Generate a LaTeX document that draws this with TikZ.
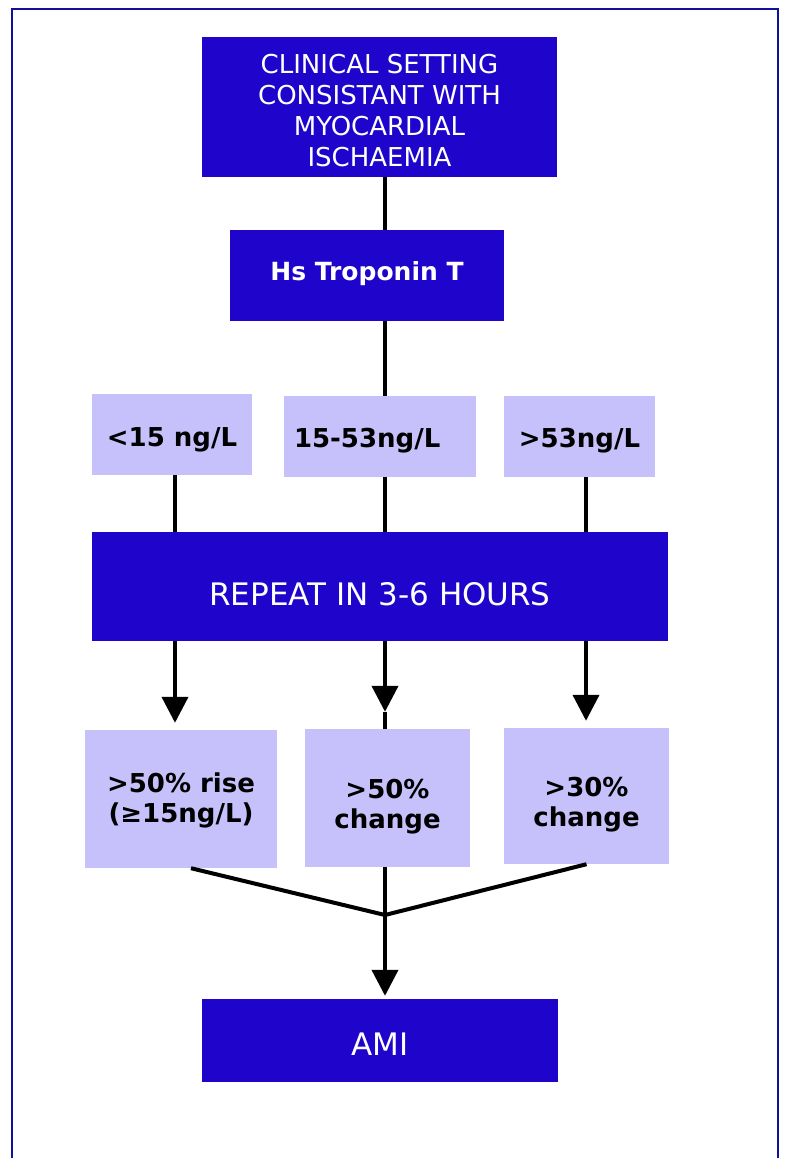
\documentclass[tikz,border=0pt]{standalone}
\usepackage{fontspec}
\setmainfont{DejaVu Sans}
\usetikzlibrary{arrows.meta}
\definecolor{dkblue}{HTML}{1F05CB}
\definecolor{lav}{HTML}{C7C1FB}
\definecolor{framec}{HTML}{10109C}
\newcommand{\lowtxt}[2]{\raisebox{-#1}[\height][\depth]{\begin{tabular}{@{}c@{}}#2\end{tabular}}}
\begin{document}
\begin{tikzpicture}[x=1pt,y=-1pt,
  dark/.style={fill=dkblue, text=white, inner sep=0pt, align=center},
  light/.style={fill=lav, text=black, inner sep=0pt, align=center, font=\bfseries\fontsize{26}{30}\selectfont},
  conn/.style={line width=4pt, black},
  arr/.style={conn, -{Triangle[width=26pt,length=26pt]}}]
\useasboundingbox (0,0) rectangle (786,1158);
\clip (0,0) rectangle (786,1158);
\fill[white] (0,0) rectangle (786,1158);
\draw[framec, line width=2.2pt] (12,1170) -- (12,9) -- (778,9) -- (778,1170);

\coordinate (cx) at (385,0);
\coordinate (lx) at (175,0);
\coordinate (rx) at (586,0);

\node[dark, minimum width=355pt, minimum height=140pt, font=\fontsize{26}{31}\selectfont] (top) at (379.5,107)
  {\lowtxt{7pt}{CLINICAL SETTING\\CONSISTANT WITH\\MYOCARDIAL\\ISCHAEMIA}};
\node[dark, minimum width=274pt, minimum height=91pt, font=\bfseries\fontsize{25}{30}\selectfont] (hs) at (367,275.5) {\lowtxt{-1pt}{Hs Troponin T}};
\node[light, minimum width=160pt, minimum height=81pt] (l1) at (172,434.5) {\lowtxt{6pt}{<15 ng/L}};
\node[light, text width=172pt, align=left, inner xsep=10pt, minimum height=81pt] (l2) at (380,436.5) {\lowtxt{5pt}{15-53ng/L}};
\node[light, minimum width=151pt, minimum height=81pt] (l3) at (579.5,436.5) {\lowtxt{5pt}{>53ng/L}};
\node[dark, minimum width=576pt, minimum height=109pt, font=\fontsize{31}{36}\selectfont] (rep) at (380,586.5) {\lowtxt{12pt}{REPEAT IN 3-6 HOURS}};
\node[light, minimum width=192pt, minimum height=138pt] (b1) at (181,799) {\lowtxt{2pt}{>50\% rise\\(≥15ng/L)}};
\node[light, minimum width=165pt, minimum height=138pt] (b2) at (387.5,798) {\lowtxt{9pt}{>50\%\\change}};
\node[light, minimum width=165pt, minimum height=136pt] (b3) at (586.5,796) {\lowtxt{9pt}{>30\%\\change}};
\node[dark, minimum width=356pt, minimum height=83pt, font=\fontsize{31}{36}\selectfont] (ami) at (380,1040.5) {\lowtxt{8pt}{AMI}};

\coordinate (j) at (385,915);

\draw[conn] (top.south -| cx) -- (hs.north -| cx);
\draw[conn] (hs.south -| cx) -- (l2.north -| cx);
\draw[conn] (l1.south -| lx) -- (rep.north -| lx);
\draw[conn] (l2.south -| cx) -- (rep.north -| cx);
\draw[conn] (l3.south -| rx) -- (rep.north -| rx);

\draw[arr] (rep.south -| lx) -- ([yshift=7pt]b1.north -| lx);
\draw[arr] (rep.south -| cx) -- ([yshift=17pt]b2.north -| cx) coordinate (mtip);
\draw[conn] (mtip) -- (b2.north -| cx);
\draw[arr] (rep.south -| rx) -- ([yshift=7pt]b3.north -| rx);

\draw[conn] ([xshift=10pt]b1.south) -- (j);
\draw[conn] (b2.south -| cx) -- (j);
\draw[conn] (b3.south) -- (j);
\draw[arr] (j) -- ([yshift=3pt]ami.north -| cx);
\end{tikzpicture}
\end{document}
